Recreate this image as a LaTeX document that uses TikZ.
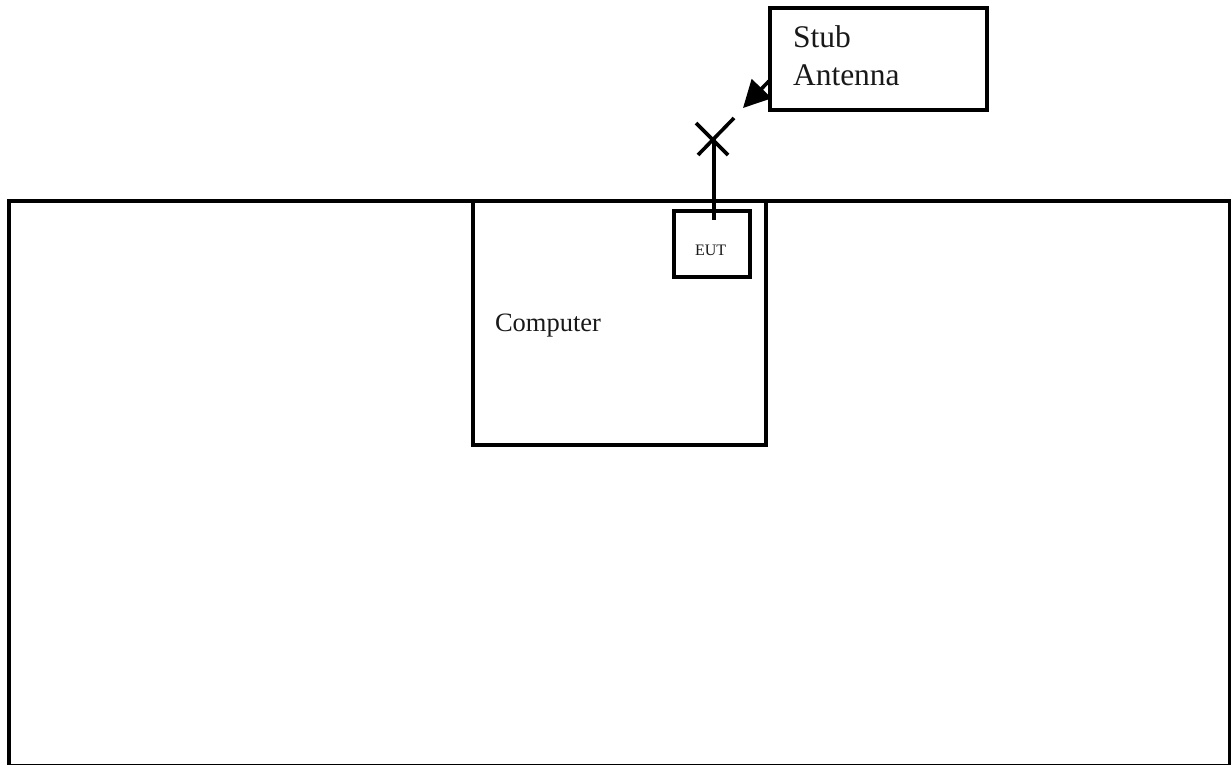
\documentclass[tikz,border=0pt]{standalone}
\usepackage{fontspec}
\setmainfont{Liberation Serif}
\usetikzlibrary{arrows.meta}
\tikzset{
  boxshape/.style={draw=black,line width=3.6pt,rectangle,inner sep=0pt,outer sep=0pt,fill=none},
  wire/.style={draw=black,line width=3.6pt},
  label/.style={anchor=base west,inner sep=0pt,outer sep=0pt,text=black!90},
}
\begin{document}
\begin{tikzpicture}[x=1pt,y=-1pt]
\useasboundingbox[fill=white] (0,0) rectangle (1231,765);
\begin{scope}
\clip (0,0) rectangle (1231,765);
\node[boxshape,minimum width=1220.6pt,minimum height=564.6pt] (room) at (619,483.3) {};
\end{scope}
\node[boxshape,minimum width=293pt,minimum height=244pt] (computer) at (619.5,323) {};
\node[boxshape,minimum width=76pt,minimum height=66pt] (eut) at (712,244) {};
\node[boxshape,minimum width=217pt,minimum height=102pt] (stub) at (878.5,59) {};
\node[label,font=\fontsize{31.5pt}{37pt}\selectfont] (stubtext) at (793,48) {Stub};
\node[label,font=\fontsize{31.5pt}{37pt}\selectfont] (anttext) at (793,86) {Antenna};
\node[label,font=\fontsize{26.5pt}{31pt}\selectfont] (comptext) at (495,331) {Computer};
\node[label,font=\fontsize{16pt}{19pt}\selectfont] (euttext) at (695,255.5) {EUT};
\coordinate (xc) at (714,139);
\coordinate (xa) at (696,123);
\coordinate (xb) at (728,155);
\coordinate (xd) at (734,118);
\coordinate (xe) at (698,155);
\coordinate (eutin) at (714,220);
\coordinate (tip) at (743,108);
\coordinate (arrowstart) at (769,81);
\draw[wire] (xa) -- (xb);
\draw[wire] (xd) -- (xe);
\draw[wire] (xc) -- (eutin);
\draw[wire,-{Triangle[length=27pt,width=27pt]}] (arrowstart) -- (tip);
\end{tikzpicture}
\end{document}
